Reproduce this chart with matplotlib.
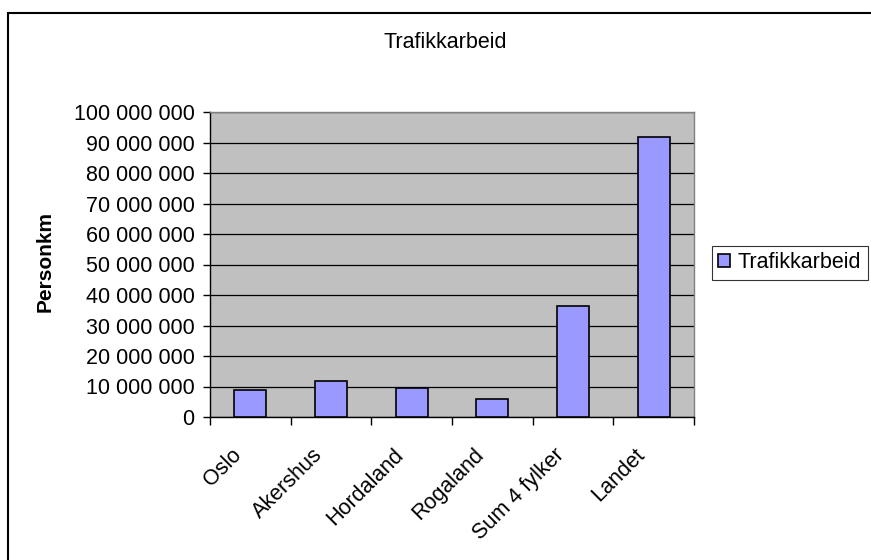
import matplotlib
matplotlib.use("Agg")
import matplotlib.pyplot as plt
from matplotlib.patches import Rectangle
from matplotlib.ticker import FuncFormatter, FixedLocator
from matplotlib.transforms import ScaledTranslation
import numpy as np

categories = ["Oslo", "Akershus", "Hordaland", "Rogaland", "Sum 4 fylker", "Landet"]
values = [8_800_000, 11_700_000, 9_500_000, 6_000_000, 36_500_000, 91_800_000]
series_name = "Trafikkarbeid"
title = "Trafikkarbeid"
ylabel = "Personkm"

plt.rcParams['font.family'] = ['Liberation Sans', 'DejaVu Sans']

fig = plt.figure(figsize=(8.71, 5.6), dpi=100)
fig.patches.append(Rectangle((8/871, -0.05), 1.0, 1 - 13/560 + 0.05, transform=fig.transFigure,
                             fill=False, edgecolor='black', linewidth=1.5, zorder=0))

ax = fig.add_axes([210/871, 1 - 417/560, 484/871, 305/560])
ax.set_facecolor('#C0C0C0')

x = np.arange(len(categories))
bars = ax.bar(x, values, width=0.4, color='#9999FF', edgecolor='black', linewidth=1.2,
              zorder=3, label=series_name)

ax.set_xlim(-0.5, len(categories) - 0.5)
ax.set_ylim(0, 100_000_000)
ax.yaxis.set_major_locator(FixedLocator(np.arange(0, 100_000_001, 10_000_000)))
ax.yaxis.set_major_formatter(FuncFormatter(lambda v, p: f"{int(v):,}".replace(",", " ")))
ax.grid(axis='y', color='black', linewidth=0.9, zorder=1)

ax.set_xticks(x)
ax.set_xticklabels(categories, rotation=45, ha='right', rotation_mode='anchor', fontsize=15.5)
ax.tick_params(axis='x', length=0, pad=14)
offset = ScaledTranslation(-19/100, -8/100, fig.dpi_scale_trans)
for lbl in ax.get_xticklabels():
    lbl.set_transform(lbl.get_transform() + offset)
ax.set_xticks(np.arange(-0.5, len(categories)), minor=True)
ax.tick_params(axis='x', which='minor', length=6, width=1, color='black', direction='out')
ax.tick_params(axis='y', length=5, width=1, labelsize=15.5, pad=6, direction='out')

for s in ['top', 'right']:
    ax.spines[s].set_color('#808080')
    ax.spines[s].set_linewidth(1)
for s in ['left', 'bottom']:
    ax.spines[s].set_color('black')
    ax.spines[s].set_linewidth(1)

fig.text(45/871, 1 - 262/560, ylabel, ha='center', va='center', rotation=90,
         fontsize=15, fontweight='bold')
fig.text(445/871, 1 - 42/560, title, ha='center', va='center', fontsize=15.5)

leg = fig.legend(handles=[bars], labels=[series_name], loc='center left',
                 bbox_to_anchor=(712/871, 1 - 263/560), fontsize=15.5, frameon=True,
                 fancybox=False, edgecolor='black', handlelength=0.55, handleheight=0.55,
                 handletextpad=0.35, borderpad=0.3, borderaxespad=0)
leg.get_frame().set_linewidth(0.8)

fig.savefig("out.png", dpi=100)
